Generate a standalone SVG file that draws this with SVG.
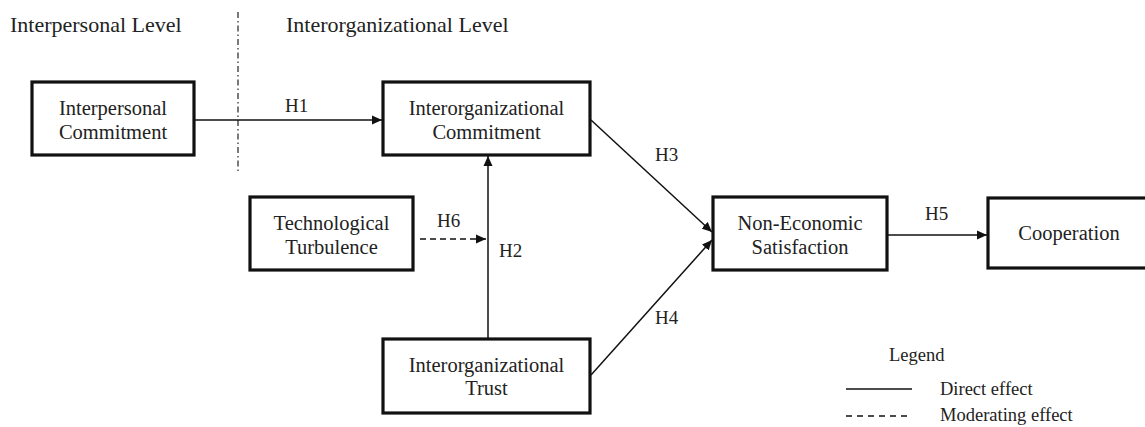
<svg xmlns="http://www.w3.org/2000/svg" width="1145" height="427" viewBox="0 0 1145 427">
  <defs>
    <marker id="arrow" viewBox="0 0 10 10" refX="10" refY="5" markerWidth="10" markerHeight="10" markerUnits="userSpaceOnUse" orient="auto">
      <path d="M0,0.5 L10,5 L0,9.5 Z" fill="#111"/>
    </marker>
    <style>
      .box { fill: #fff; stroke: #111; stroke-width: 3.2; }
      .t { font-family: "Liberation Serif", "Times New Roman", serif; fill: #222; }
      .node { font-size: 20.5px; text-anchor: middle; }
      .title { font-size: 22px; }
      .lbl { font-size: 19px; }
      .leg { font-size: 18.5px; }
      .edge { stroke: #111; stroke-width: 1.5; fill: none; }
      .dashed { stroke-dasharray: 6 4; }
    </style>
  </defs>
  <rect width="1145" height="427" fill="#fff"/>

  <text class="t title" x="10" y="32">Interpersonal Level</text>
  <text class="t title" x="286" y="32">Interorganizational Level</text>
  <line x1="238" y1="12" x2="238" y2="174" stroke="#222" stroke-width="1.2" stroke-dasharray="6 3 1.5 3"/>

  <g id="connectors">
    <line class="edge" x1="194" y1="120" x2="382" y2="120" marker-end="url(#arrow)"/>
    <line class="edge" x1="488" y1="339" x2="488" y2="156" marker-end="url(#arrow)"/>
    <line class="edge dashed" x1="420" y1="239" x2="486" y2="239" marker-end="url(#arrow)"/>
    <line class="edge" x1="591" y1="120" x2="712" y2="232" marker-end="url(#arrow)"/>
    <line class="edge" x1="591" y1="375" x2="712" y2="240" marker-end="url(#arrow)"/>
    <line class="edge" x1="887" y1="235" x2="987" y2="235" marker-end="url(#arrow)"/>
    <text class="t lbl" x="285" y="112">H1</text>
    <text class="t lbl" x="499" y="257">H2</text>
    <text class="t lbl" x="655" y="161">H3</text>
    <text class="t lbl" x="655" y="324">H4</text>
    <text class="t lbl" x="925" y="220">H5</text>
    <text class="t lbl" x="437" y="227">H6</text>
  </g>

  <g id="interpersonal-commitment">
    <rect class="box" x="32" y="82" width="162" height="73"/>
    <text class="t node" x="113" y="115">Interpersonal</text>
    <text class="t node" x="113" y="139">Commitment</text>
  </g>
  <g id="interorganizational-commitment">
    <rect class="box" x="383" y="82" width="207" height="73"/>
    <text class="t node" x="486.5" y="115">Interorganizational</text>
    <text class="t node" x="486.5" y="139">Commitment</text>
  </g>
  <g id="technological-turbulence">
    <rect class="box" x="250" y="197" width="163" height="73"/>
    <text class="t node" x="331.5" y="230">Technological</text>
    <text class="t node" x="331.5" y="254">Turbulence</text>
  </g>
  <g id="interorganizational-trust">
    <rect class="box" x="383" y="339" width="207" height="74"/>
    <text class="t node" x="486.5" y="372">Interorganizational</text>
    <text class="t node" x="486.5" y="395">Trust</text>
  </g>
  <g id="non-economic-satisfaction">
    <rect class="box" x="713" y="197" width="174" height="73"/>
    <text class="t node" x="800" y="230">Non-Economic</text>
    <text class="t node" x="800" y="254">Satisfaction</text>
  </g>
  <g id="cooperation">
    <rect class="box" x="988" y="198" width="162" height="70"/>
    <text class="t node" x="1069" y="240">Cooperation</text>
  </g>

  <g id="legend">
    <text class="t leg" x="889" y="361">Legend</text>
    <line class="edge" x1="846" y1="389" x2="912" y2="389"/>
    <text class="t leg" x="940" y="395">Direct effect</text>
    <line class="edge" x1="846" y1="416" x2="912" y2="416" stroke-dasharray="6 5"/>
    <text class="t leg" x="940" y="421">Moderating effect</text>
  </g>
</svg>
